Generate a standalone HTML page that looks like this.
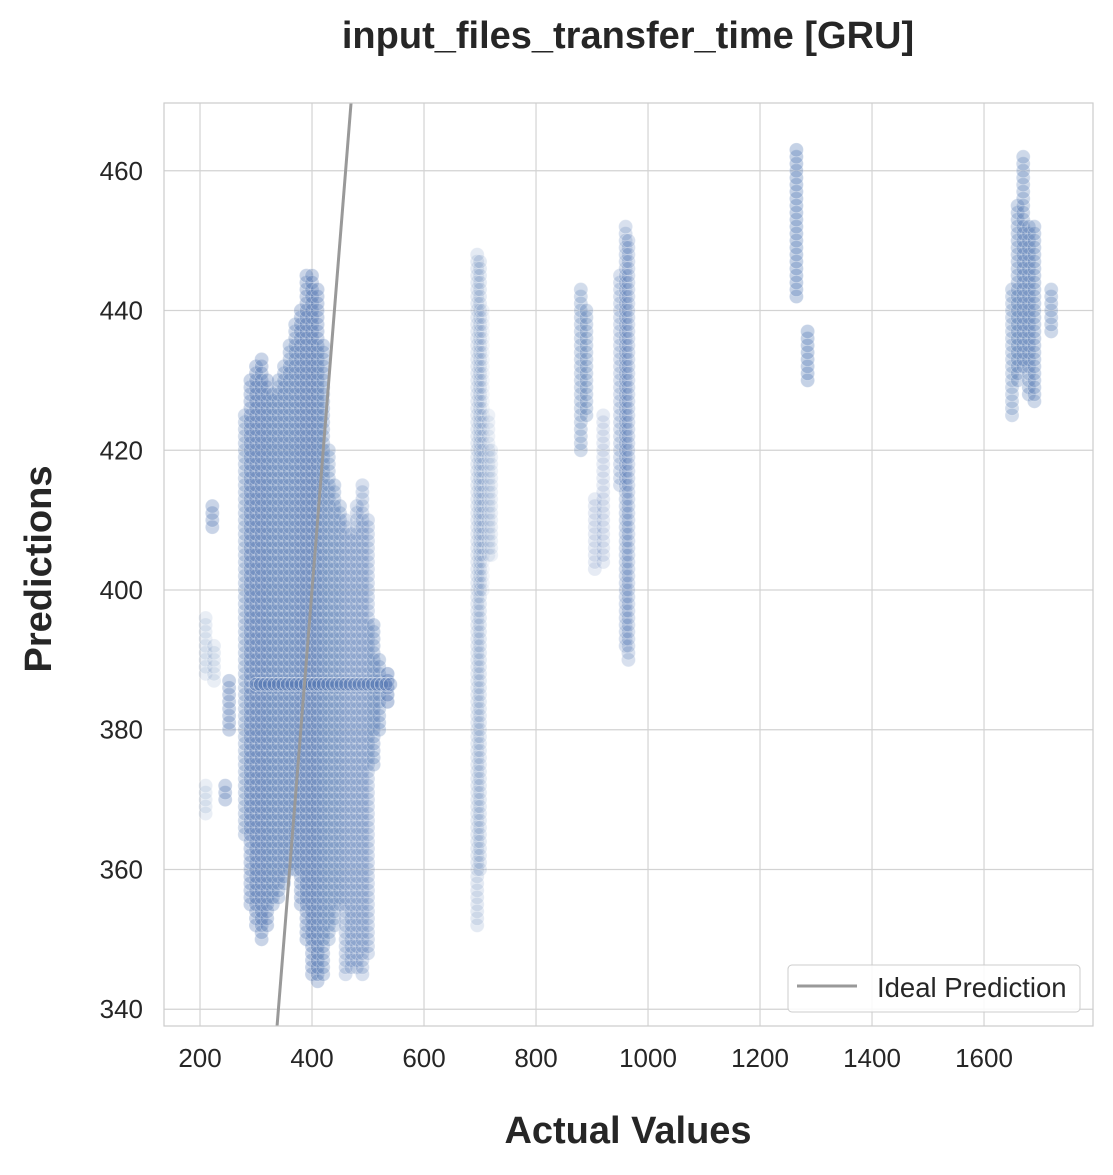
<!DOCTYPE html>
<html><head><meta charset="utf-8"><style>
body{margin:0;background:#fff;}
svg text{font-family:"Liberation Sans",Arial,sans-serif;fill:#262626;}
</style></head><body>
<svg id="chart" width="1113" height="1170">
<rect x="0" y="0" width="1113" height="1170" fill="#fff"/>
<g id="grid"></g>
<g id="dots"></g>
<g id="ideal"></g>
<rect x="164" y="103" width="929" height="923" fill="none" stroke="#ccc" stroke-width="1.2"/>
<g id="ticks"></g>
<text x="628" y="48" text-anchor="middle" font-size="38" font-weight="bold">input_files_transfer_time [GRU]</text>
<text x="628" y="1143" text-anchor="middle" font-size="38" font-weight="bold">Actual Values</text>
<text transform="translate(51,569) rotate(-90)" text-anchor="middle" font-size="38" font-weight="bold">Predictions</text>
<g>
<rect x="788" y="965" width="292" height="47" rx="4" fill="#fff" fill-opacity="0.85" stroke="#ccc"/>
<line x1="797" y1="986" x2="857" y2="986" stroke="#999" stroke-width="3"/>
<text x="877" y="997" font-size="27.5">Ideal Prediction</text>
</g>
</svg>
<script>
const xTicks=[200,400,600,800,1000,1200,1400,1600];
const yTicks=[340,360,380,400,420,440,460];
// strips of predictions: actual value, min prediction, max prediction, opacity
const stripX=[210,210,222,225,245,252,280,290,300,310,320,330,340,350,360,370,380,390,400,410,420,430,440,450,460,470,480,490,500,510,520,535,695,700,705,715,720,880,890,905,920,950,960,965,1265,1285,1650,1660,1670,1680,1690,1720];
const stripMin=[368,388,409,387,370,380,365,355,352,350,352,355,356,358,360,360,355,350,345,344,345,350,352,355,345,346,346,345,348,375,380,384,352,360,400,405,405,420,425,403,404,415,392,390,442,430,425,430,432,428,427,437];
const stripMax=[372,396,412,392,372,387,425,430,432,433,430,428,430,432,435,438,440,445,445,443,435,420,415,412,410,408,412,415,410,395,390,388,448,447,440,425,420,443,440,413,425,445,452,450,463,437,443,455,462,452,452,443];
const stripAlpha=[0.12,0.12,0.3,0.12,0.3,0.3,0.25,0.3,0.3,0.3,0.3,0.28,0.28,0.28,0.28,0.28,0.3,0.3,0.3,0.3,0.28,0.25,0.25,0.25,0.22,0.22,0.22,0.22,0.22,0.28,0.28,0.38,0.15,0.15,0.08,0.1,0.1,0.25,0.25,0.14,0.14,0.22,0.22,0.22,0.32,0.32,0.25,0.28,0.28,0.28,0.28,0.28];
const bandMinX=300, bandMaxX=540, bandY=386.5;
const xMin=135.7,xMax=1794.6,yMin=337.6,yMax=469.7;
const L=164,R=1093,T=103,B=1026;
const sx=v=>L+(v-xMin)/(xMax-xMin)*(R-L);
const sy=v=>B-(v-yMin)/(yMax-yMin)*(B-T);
const NS="http://www.w3.org/2000/svg";
const grid=document.getElementById('grid'),ticks=document.getElementById('ticks'),dots=document.getElementById('dots');
function mk(tag,attrs,parent){const e=document.createElementNS(NS,tag);for(const k in attrs)e.setAttribute(k,attrs[k]);parent.appendChild(e);return e;}
xTicks.forEach(t=>{
 const l=mk('line',{x1:sx(t),x2:sx(t),y1:T,y2:B,stroke:'#d3d3d3','stroke-width':1.2},grid);
 
 
 const tx=mk('text',{x:sx(t),y:1067,'text-anchor':'middle','font-size':26},ticks);tx.textContent=t;
 
 
});
yTicks.forEach(t=>{
 const l=mk('line',{x1:L,x2:R,y1:sy(t),y2:sy(t),stroke:'#d3d3d3','stroke-width':1.2},grid);
 
 
 const tx=mk('text',{x:143,y:sy(t)+9,'text-anchor':'end','font-size':26},ticks);tx.textContent=t;
 
 
});
stripX.forEach((x,i)=>{
 for(let y=stripMin[i];y<=stripMax[i];y+=1.0){
  const c=mk('circle',{cx:sx(x),cy:sy(y),r:7,fill:'#4c72b0','fill-opacity':stripAlpha[i],stroke:'#fff','stroke-opacity':0.3,'stroke-width':0.8},dots);
  
  
 }
});
for(let x=bandMinX;x<=bandMaxX;x+=8){
 const c=mk('circle',{cx:sx(x),cy:sy(bandY),r:7,fill:'#4c72b0','fill-opacity':0.3,stroke:'#fff','stroke-opacity':0.5,'stroke-width':0.8},dots);
 
 
}
const il=mk('line',{x1:sx(yMin),y1:sy(yMin),x2:sx(yMax),y2:sy(yMax),stroke:'#999','stroke-width':3},document.getElementById('ideal'));


</script>
</body></html>
